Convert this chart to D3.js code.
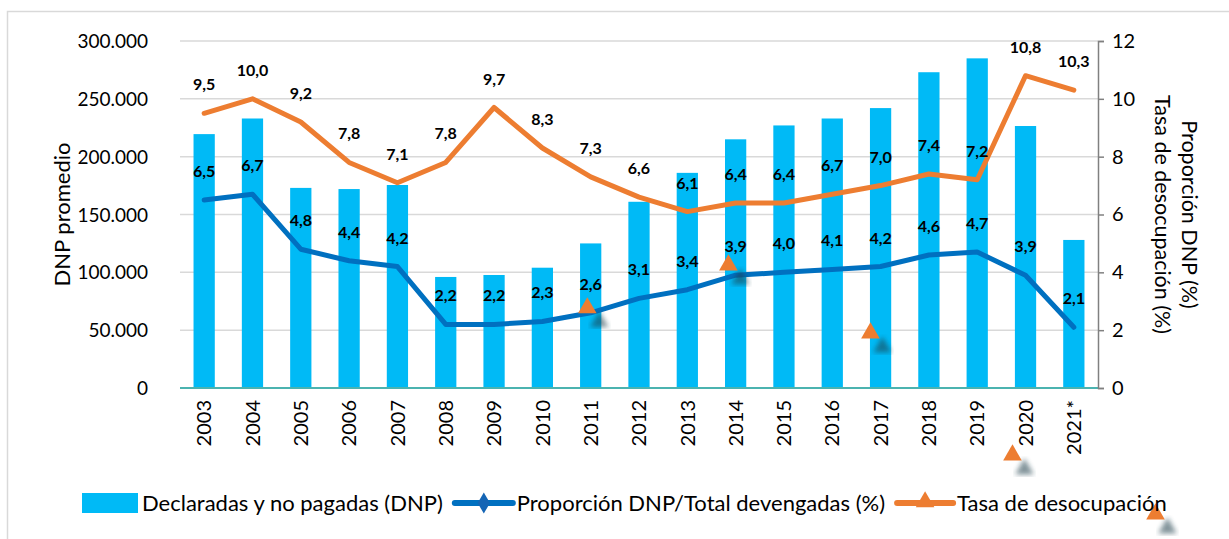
<!DOCTYPE html>
<html>
<head>
<meta charset="utf-8">
<script src="https://cdn.jsdelivr.net/npm/d3@7"></script>
<style>
  body { margin: 0; background: #fff; }
  text { font-family: Lato, "Open Sans", sans-serif; fill: #000; }
  .grid line { stroke: #d9d9d9; stroke-width: 1.5; }
  .lbl { font-weight: bold; font-size: 16px; }
</style>
</head>
<body>
<div id="chart"></div>
<script>
    var width = 1229,
        height = 539;

    // data
    var years = ["2003","2004","2005","2006","2007","2008","2009","2010","2011","2012",
                 "2013","2014","2015","2016","2017","2018","2019","2020","2021*"];
    var dnp = [219500, 233000, 173000, 172000, 175500, 96000, 97700, 104000, 125000, 161000,
               186000, 215000, 227000, 233000, 242000, 273000, 285000, 226500, 128000];
    var proporcion = [6.5, 6.7, 4.8, 4.4, 4.2, 2.2, 2.2, 2.3, 2.6, 3.1,
                      3.4, 3.9, 4.0, 4.1, 4.2, 4.6, 4.7, 3.9, 2.1];
    var desocupacion = [9.5, 10.0, 9.2, 7.8, 7.1, 7.8, 9.7, 8.3, 7.3, 6.6,
                        6.1, 6.4, 6.4, 6.7, 7.0, 7.4, 7.2, 10.8, 10.3];
    var leftTicks = [0, 50000, 100000, 150000, 200000, 250000, 300000];
    var rightTicks = [0, 2, 4, 6, 8, 10, 12];
    // loose triangle markers left over in the picture (category position, right axis value)
    var strayMarks = [[7.93, 2.77], [10.85, 4.25], [13.79, 1.9], [16.73, -2.32], [19.69, -4.36]];

    var colors = { bar: "#00baf6", prop: "#0070c0", tasa: "#ed7d31", grid: "#d9d9d9" };

    var margin = { left: 180, right: 1098, top: 41, bottom: 388 };

    var svg = d3.select("#chart").append("svg")
      .attr("width", width)
      .attr("height", height);

    // outer frame
    svg.append("rect")
      .attr("x", 7.5).attr("y", 11.5)
      .attr("width", 1300).attr("height", 600)
      .attr("fill", "none")
      .attr("stroke", "#d9d9d9")
      .attr("stroke-width", 1.5);

    var x = d3.scaleBand()
      .domain(years)
      .range([margin.left, margin.right])
      .paddingInner(0.56)
      .paddingOuter(0.28);

    var xc = d3.scaleLinear()
      .domain([0, 1])
      .range([x(years[0]) + x.bandwidth() / 2, x(years[1]) + x.bandwidth() / 2]);

    var y = d3.scaleLinear().domain([0, 300000]).range([margin.bottom, margin.top]);
    var yR = d3.scaleLinear().domain([0, 12]).range([margin.bottom, margin.top]);

    var fmt = function(v) { return d3.format(",")(v).replace(/,/g, "."); };
    var fmt1 = function(v) { return d3.format(".1f")(v).replace(".", ","); };

    // gridlines
    svg.append("g")
      .attr("class", "grid")
      .selectAll("line")
      .data(leftTicks.filter(function(d) { return d > 0; }))
      .enter().append("line")
      .attr("x1", margin.left).attr("x2", margin.right)
      .attr("y1", function(d) { return y(d); })
      .attr("y2", function(d) { return y(d); });

    // left axis (labels only)
    var leftAxis = svg.append("g")
      .attr("transform", "translate(" + (margin.left - 32) + ",0)")
      .call(d3.axisLeft(y).tickValues(leftTicks).tickFormat(fmt).tickSize(0));
    leftAxis.select(".domain").remove();
    leftAxis.selectAll("text").style("font-size", "19px").attr("x", 0).attr("dy", "0.35em");

    // bars
    svg.append("g").selectAll("rect")
      .data(dnp)
      .enter().append("rect")
      .attr("x", function(d, i) { return x(years[i]); })
      .attr("y", function(d) { return y(d); })
      .attr("width", x.bandwidth())
      .attr("height", function(d) { return y(0) - y(d); })
      .attr("fill", colors.bar);

    // x axis baseline
    svg.append("line")
      .attr("x1", margin.left).attr("x2", margin.right)
      .attr("y1", y(0)).attr("y2", y(0))
      .attr("stroke", "#4bb3b0")
      .attr("stroke-width", 2);

    // x labels
    var xAxis = svg.append("g")
      .attr("transform", "translate(0," + (y(0) + 12) + ")")
      .call(d3.axisBottom(x).tickSize(0));
    xAxis.select(".domain").remove();
    xAxis.selectAll("text")
      .style("font-size", "20px")
      .attr("transform", "rotate(-90)")
      .attr("text-anchor", "end")
      .attr("x", 0)
      .attr("y", 0)
      .attr("dy", "0.36em");

    // right axis
    var rightAxis = svg.append("g")
      .attr("transform", "translate(" + margin.right + ",0)")
      .call(d3.axisRight(yR).tickValues(rightTicks).tickSize(6).tickPadding(8));
    rightAxis.select(".domain").attr("stroke", "#808080").attr("stroke-width", 1.5);
    rightAxis.selectAll(".tick line").attr("stroke", "#808080").attr("stroke-width", 1.5);
    rightAxis.selectAll("text").style("font-size", "20px");

    // axis titles
    svg.append("text")
      .attr("transform", "translate(62," + ((margin.top + margin.bottom) / 2) + ") rotate(-90)")
      .attr("text-anchor", "middle")
      .attr("dy", "0.35em")
      .style("font-size", "22px")
      .text("DNP promedio");

    var rt = svg.append("text")
      .attr("transform", "translate(1190," + ((margin.top + margin.bottom) / 2) + ") rotate(90)")
      .attr("text-anchor", "middle")
      .style("font-size", "21.5px");
    rt.append("tspan").attr("x", 0).attr("dy", "0.35em").text("Proporción DNP (%)");
    rt.append("tspan").attr("x", 0).attr("dy", "1.3em").text("Tasa de desocupación (%)");

    // lines
    var lineProp = d3.line()
      .x(function(d, i) { return x(years[i]) + x.bandwidth() / 2; })
      .y(function(d) { return yR(d); });

    svg.append("path")
      .datum(desocupacion)
      .attr("d", lineProp)
      .attr("fill", "none")
      .attr("stroke", colors.tasa)
      .attr("stroke-width", 5)
      .attr("stroke-linejoin", "round")
      .attr("stroke-linecap", "round");

    svg.append("path")
      .datum(proporcion)
      .attr("d", lineProp)
      .attr("fill", "none")
      .attr("stroke", colors.prop)
      .attr("stroke-width", 5)
      .attr("stroke-linejoin", "round")
      .attr("stroke-linecap", "round");

    // value labels
    function addLabels(arr) {
      svg.append("g").selectAll("text")
        .data(arr)
        .enter().append("text")
        .attr("class", "lbl")
        .attr("text-anchor", "middle")
        .attr("x", function(d, i) { return x(years[i]) + x.bandwidth() / 2; })
        .attr("y", function(d) { return yR(d) - 23; })
        .text(fmt1);
    }
    addLabels(desocupacion);
    addLabels(proporcion);

    // stray triangle markers with their shadows
    var tri = d3.symbol().type(d3.symbolTriangle).size(150);
    var defs = svg.append("defs");
    defs.append("filter").attr("id", "blur")
      .append("feGaussianBlur").attr("stdDeviation", 2.5);

    var stray = svg.append("g");
    stray.selectAll(".shadow")
      .data(strayMarks)
      .enter().append("path")
      .attr("class", "shadow")
      .attr("d", tri)
      .attr("fill", "#1c3d4a")
      .attr("opacity", 0.55)
      .attr("filter", "url(#blur)")
      .attr("transform", function(d) { return "translate(" + (xc(d[0]) + 12) + "," + (yR(d[1]) + 14) + ")"; });
    stray.selectAll(".mark")
      .data(strayMarks)
      .enter().append("path")
      .attr("class", "mark")
      .attr("d", tri)
      .attr("fill", colors.tasa)
      .attr("transform", function(d) { return "translate(" + xc(d[0]) + "," + yR(d[1]) + ")"; });

    // legend
    var legend = svg.append("g").attr("transform", "translate(82,503)");
    var lx = 0;

    legend.append("rect")
      .attr("x", lx).attr("y", -10)
      .attr("width", 56).attr("height", 20)
      .attr("fill", colors.bar);
    var t1 = legend.append("text")
      .attr("x", lx + 60).attr("dy", "0.35em")
      .style("font-size", "22px")
      .text("Declaradas y no pagadas (DNP)");
    lx += 60 + t1.node().getComputedTextLength() + 12;

    legend.append("line")
      .attr("x1", lx).attr("x2", lx + 58)
      .attr("stroke", colors.prop).attr("stroke-width", 6)
      .attr("stroke-linecap", "round");
    legend.append("path")
      .attr("d", d3.symbol().type(d3.symbolDiamond).size(130))
      .attr("transform", "translate(" + (lx + 29) + ",0)")
      .attr("fill", "#1565b5");
    var t2 = legend.append("text")
      .attr("x", lx + 62).attr("dy", "0.35em")
      .style("font-size", "22px")
      .text("Proporción DNP/Total devengadas (%)");
    lx += 62 + t2.node().getComputedTextLength() + 12;

    legend.append("line")
      .attr("x1", lx).attr("x2", lx + 56)
      .attr("stroke", colors.tasa).attr("stroke-width", 6)
      .attr("stroke-linecap", "round");
    legend.append("path")
      .attr("d", tri)
      .attr("transform", "translate(" + (lx + 28) + ",-1)")
      .attr("fill", colors.tasa);
    legend.append("text")
      .attr("x", lx + 60).attr("dy", "0.35em")
      .style("font-size", "22px")
      .text("Tasa de desocupación");
</script>
</body>
</html>
